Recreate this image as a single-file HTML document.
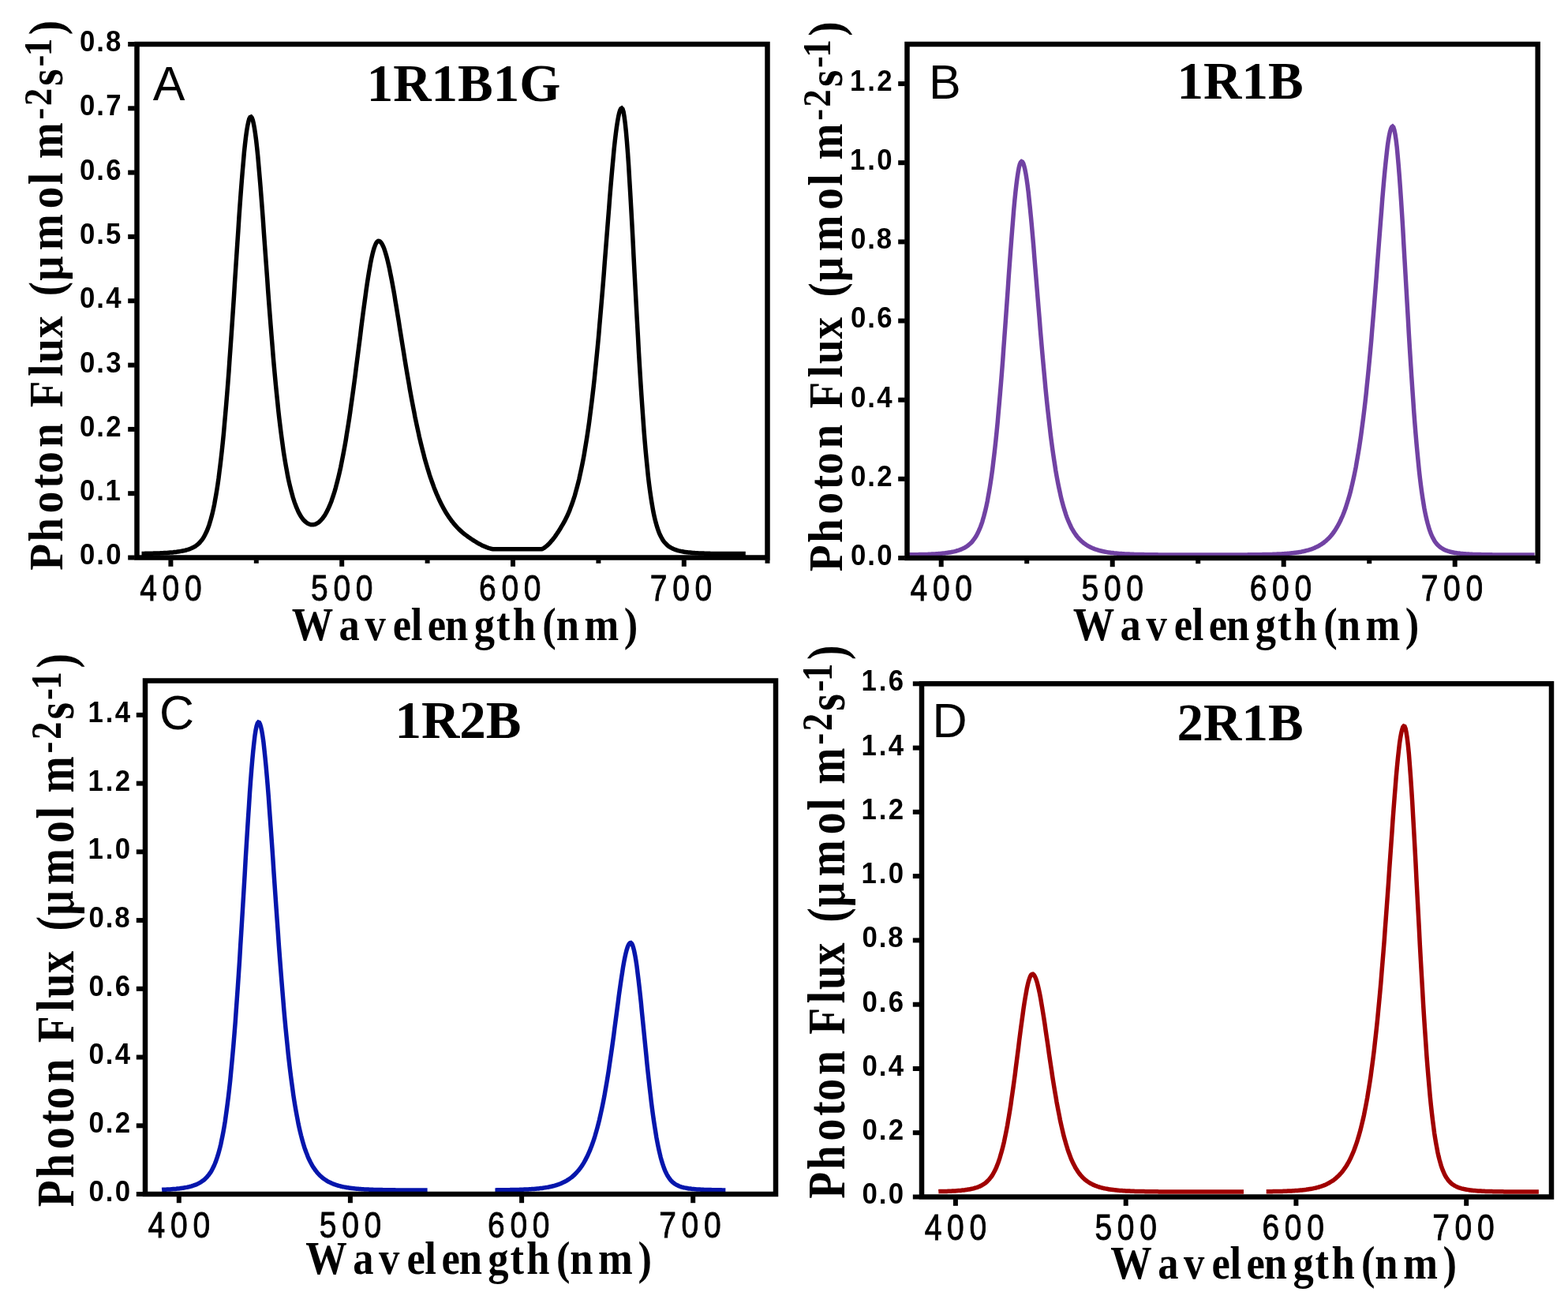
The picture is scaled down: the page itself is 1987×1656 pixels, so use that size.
<!DOCTYPE html>
<html><head><meta charset="utf-8"><style>html,body{margin:0;padding:0;background:#fff;}svg{display:block;}</style></head>
<body>
<svg width="1987" height="1656" viewBox="0 0 1987 1656">
<rect width="1987" height="1656" fill="#ffffff"/>
<path d="M179.5 701.4 L180.6 701.4 L181.7 701.4 L182.8 701.4 L183.9 701.3 L185.0 701.3 L186.0 701.3 L187.1 701.3 L188.2 701.3 L189.3 701.3 L190.4 701.2 L191.5 701.2 L192.5 701.2 L193.6 701.2 L194.7 701.1 L195.8 701.1 L196.9 701.1 L197.9 701.0 L199.0 701.0 L200.1 701.0 L201.2 700.9 L202.3 700.9 L203.4 700.8 L204.4 700.8 L205.5 700.7 L206.6 700.7 L207.7 700.6 L208.8 700.6 L209.9 700.5 L210.9 700.4 L212.0 700.4 L213.1 700.3 L214.2 700.2 L215.3 700.1 L216.3 700.1 L217.4 700.0 L218.5 699.9 L219.6 699.8 L220.7 699.6 L221.8 699.5 L222.8 699.4 L223.9 699.3 L225.0 699.1 L226.1 699.0 L227.2 698.8 L228.3 698.6 L229.3 698.4 L230.4 698.2 L231.5 698.0 L232.6 697.8 L233.7 697.6 L234.7 697.3 L235.8 697.0 L236.9 696.7 L238.0 696.4 L239.1 696.0 L240.2 695.7 L241.2 695.2 L242.3 694.8 L243.4 694.3 L244.5 693.8 L245.6 693.2 L246.7 692.6 L247.7 691.9 L248.8 691.1 L249.9 690.3 L251.0 689.4 L252.1 688.4 L253.2 687.3 L254.2 686.1 L255.3 684.8 L256.4 683.3 L257.5 681.7 L258.6 679.9 L259.6 678.0 L260.7 675.8 L261.8 673.5 L262.9 670.9 L264.0 668.0 L265.1 664.9 L266.1 661.5 L267.2 657.8 L268.3 653.7 L269.4 649.3 L270.5 644.5 L271.6 639.3 L272.6 633.6 L273.7 627.5 L274.8 620.9 L275.9 613.8 L277.0 606.2 L278.0 598.0 L279.1 589.3 L280.2 580.0 L281.3 570.2 L282.4 559.7 L283.5 548.7 L284.5 537.0 L285.6 524.8 L286.7 512.0 L287.8 498.6 L288.9 484.7 L290.0 470.2 L291.0 455.3 L292.1 440.0 L293.2 424.2 L294.3 408.1 L295.4 391.8 L296.5 375.2 L297.5 358.5 L298.6 341.7 L299.7 325.0 L300.8 308.3 L301.9 292.0 L302.9 275.9 L304.0 260.3 L305.1 245.3 L306.2 230.9 L307.3 217.4 L308.4 204.7 L309.4 193.1 L310.5 182.6 L311.6 173.3 L312.7 165.4 L313.8 158.9 L314.9 153.8 L315.9 150.3 L317.0 148.4 L318.1 148.0 L319.2 149.3 L320.3 152.0 L321.3 156.4 L322.4 162.1 L323.5 169.3 L324.6 177.7 L325.7 187.4 L326.8 198.1 L327.8 209.8 L328.9 222.4 L330.0 235.6 L331.1 249.5 L332.2 263.8 L333.3 278.5 L334.3 293.5 L335.4 308.6 L336.5 323.8 L337.6 338.9 L338.7 353.9 L339.7 368.8 L340.8 383.5 L341.9 397.8 L343.0 411.9 L344.1 425.6 L345.2 438.9 L346.2 451.8 L347.3 464.3 L348.4 476.3 L349.5 487.9 L350.6 499.0 L351.7 509.6 L352.7 519.8 L353.8 529.5 L354.9 538.7 L356.0 547.5 L357.1 555.8 L358.2 563.8 L359.2 571.3 L360.3 578.4 L361.4 585.1 L362.5 591.4 L363.6 597.3 L364.6 602.9 L365.7 608.2 L366.8 613.1 L367.9 617.7 L369.0 622.0 L370.1 626.0 L371.1 629.8 L372.2 633.3 L373.3 636.6 L374.4 639.6 L375.5 642.4 L376.6 645.0 L377.6 647.4 L378.7 649.6 L379.8 651.6 L380.9 653.5 L382.0 655.2 L383.0 656.7 L384.1 658.1 L385.2 659.3 L386.3 660.4 L387.4 661.4 L388.5 662.2 L389.5 663.0 L390.6 663.6 L391.7 664.0 L392.8 664.4 L393.9 664.7 L395.0 664.8 L396.0 664.8 L397.1 664.7 L398.2 664.6 L399.3 664.3 L400.4 663.8 L401.4 663.3 L402.5 662.7 L403.6 662.0 L404.7 661.1 L405.8 660.1 L406.9 659.0 L407.9 657.8 L409.0 656.5 L410.1 655.0 L411.2 653.4 L412.3 651.6 L413.4 649.7 L414.4 647.7 L415.5 645.5 L416.6 643.2 L417.7 640.7 L418.8 638.0 L419.9 635.2 L420.9 632.2 L422.0 629.0 L423.1 625.6 L424.2 622.1 L425.3 618.3 L426.3 614.4 L427.4 610.3 L428.5 605.9 L429.6 601.4 L430.7 596.6 L431.8 591.6 L432.8 586.4 L433.9 581.0 L435.0 575.4 L436.1 569.6 L437.2 563.5 L438.3 557.2 L439.3 550.7 L440.4 544.0 L441.5 537.1 L442.6 530.0 L443.7 522.7 L444.7 515.2 L445.8 507.5 L446.9 499.7 L448.0 491.6 L449.1 483.5 L450.2 475.2 L451.2 466.8 L452.3 458.4 L453.4 449.8 L454.5 441.2 L455.6 432.6 L456.7 424.0 L457.7 415.4 L458.8 406.9 L459.9 398.5 L461.0 390.2 L462.1 382.1 L463.2 374.2 L464.2 366.5 L465.3 359.1 L466.4 352.0 L467.5 345.3 L468.6 339.0 L469.6 333.1 L470.7 327.7 L471.8 322.8 L472.9 318.5 L474.0 314.7 L475.1 311.6 L476.1 309.1 L477.2 307.2 L478.3 306.0 L479.4 305.4 L480.5 305.5 L481.6 306.0 L482.6 307.1 L483.7 308.5 L484.8 310.5 L485.9 312.8 L487.0 315.6 L488.0 318.8 L489.1 322.4 L490.2 326.3 L491.3 330.6 L492.4 335.3 L493.5 340.2 L494.5 345.4 L495.6 350.9 L496.7 356.6 L497.8 362.5 L498.9 368.6 L500.0 374.9 L501.0 381.3 L502.1 387.8 L503.2 394.5 L504.3 401.2 L505.4 407.9 L506.4 414.7 L507.5 421.5 L508.6 428.3 L509.7 435.1 L510.8 441.9 L511.9 448.6 L512.9 455.2 L514.0 461.8 L515.1 468.4 L516.2 474.8 L517.3 481.1 L518.4 487.4 L519.4 493.5 L520.5 499.6 L521.6 505.5 L522.7 511.3 L523.8 517.0 L524.9 522.5 L525.9 528.0 L527.0 533.3 L528.1 538.5 L529.2 543.5 L530.3 548.5 L531.3 553.3 L532.4 557.9 L533.5 562.5 L534.6 566.9 L535.7 571.2 L536.8 575.4 L537.8 579.5 L538.9 583.4 L540.0 587.2 L541.1 591.0 L542.2 594.6 L543.3 598.1 L544.3 601.5 L545.4 604.8 L546.5 607.9 L547.6 611.0 L548.7 614.0 L549.7 616.9 L550.8 619.7 L551.9 622.4 L553.0 625.1 L554.1 627.6 L555.2 630.1 L556.2 632.5 L557.3 634.8 L558.4 637.0 L559.5 639.2 L560.6 641.3 L561.7 643.3 L562.7 645.2 L563.8 647.1 L564.9 649.0 L566.0 650.7 L567.1 652.4 L568.1 654.1 L569.2 655.7 L570.3 657.2 L571.4 658.7 L572.5 660.2 L573.6 661.5 L574.6 662.9 L575.7 664.2 L576.8 665.4 L577.9 666.7 L579.0 667.8 L580.1 669.0 L581.1 670.1 L582.2 671.1 L583.3 672.1 L584.4 673.1 L585.5 674.1 L586.6 675.0 L587.6 675.9 L588.7 676.8 L589.8 677.6 L590.9 678.4 L592.0 679.2 L593.0 680.0 L594.1 680.8 L595.2 681.5 L596.3 682.3 L597.4 683.0 L598.5 683.7 L599.5 684.4 L600.6 685.1 L601.7 685.8 L602.8 686.5 L603.9 687.1 L605.0 687.8 L606.0 688.4 L607.1 689.0 L608.2 689.6 L609.3 690.1 L610.4 690.7 L611.4 691.2 L612.5 691.7 L613.6 692.2 L614.7 692.6 L615.8 693.1 L616.9 693.5 L617.9 693.9 L619.0 694.3 L620.1 694.6 L621.2 695.0 L622.3 695.3 L623.4 695.5 L624.4 695.7 L625.5 695.7 L626.6 695.7 L627.7 695.7 L628.8 695.7 L629.9 695.7 L630.9 695.7 L632.0 695.7 L633.1 695.7 L634.2 695.7 L635.3 695.7 L636.3 695.7 L637.4 695.7 L638.5 695.7 L639.6 695.7 L640.7 695.7 L641.8 695.7 L642.8 695.7 L643.9 695.7 L645.0 695.7 L646.1 695.7 L647.2 695.7 L648.3 695.7 L649.3 695.7 L650.4 695.7 L651.5 695.7 L652.6 695.7 L653.7 695.7 L654.7 695.7 L655.8 695.7 L656.9 695.7 L658.0 695.7 L659.1 695.7 L660.2 695.7 L661.2 695.7 L662.3 695.7 L663.4 695.7 L664.5 695.7 L665.6 695.7 L666.7 695.7 L667.7 695.7 L668.8 695.7 L669.9 695.7 L671.0 695.7 L672.1 695.7 L673.1 695.7 L674.2 695.7 L675.3 695.7 L676.4 695.7 L677.5 695.7 L678.6 695.7 L679.6 695.7 L680.7 695.7 L681.8 695.7 L682.9 695.7 L684.0 695.7 L685.1 695.7 L686.1 695.7 L687.2 695.5 L688.3 694.9 L689.4 694.3 L690.5 693.5 L691.6 692.7 L692.6 691.8 L693.7 690.9 L694.8 689.9 L695.9 688.8 L697.0 687.6 L698.0 686.4 L699.1 685.2 L700.2 683.9 L701.3 682.5 L702.4 681.1 L703.5 679.6 L704.5 678.1 L705.6 676.5 L706.7 674.9 L707.8 673.2 L708.9 671.5 L710.0 669.8 L711.0 668.0 L712.1 666.2 L713.2 664.3 L714.3 662.4 L715.4 660.4 L716.4 658.4 L717.5 656.2 L718.6 654.0 L719.7 651.6 L720.8 649.1 L721.9 646.5 L722.9 643.7 L724.0 640.8 L725.1 637.8 L726.2 634.6 L727.3 631.2 L728.4 627.7 L729.4 624.0 L730.5 620.1 L731.6 616.1 L732.7 611.8 L733.8 607.3 L734.8 602.6 L735.9 597.7 L737.0 592.5 L738.1 587.1 L739.2 581.5 L740.3 575.5 L741.3 569.3 L742.4 562.8 L743.5 556.0 L744.6 548.9 L745.7 541.5 L746.8 533.7 L747.8 525.6 L748.9 517.2 L750.0 508.4 L751.1 499.2 L752.2 489.7 L753.3 479.8 L754.3 469.5 L755.4 458.9 L756.5 447.8 L757.6 436.4 L758.7 424.7 L759.7 412.5 L760.8 400.1 L761.9 387.3 L763.0 374.2 L764.1 360.9 L765.2 347.4 L766.2 333.6 L767.3 319.8 L768.4 305.8 L769.5 291.8 L770.6 277.9 L771.7 264.1 L772.7 250.6 L773.8 237.3 L774.9 224.4 L776.0 212.1 L777.1 200.3 L778.1 189.3 L779.2 179.0 L780.3 169.7 L781.4 161.4 L782.5 154.2 L783.6 148.1 L784.6 143.4 L785.7 139.9 L786.8 137.7 L787.9 137.0 L789.0 138.1 L790.1 141.7 L791.1 147.7 L792.2 156.0 L793.3 166.4 L794.4 178.9 L795.5 193.2 L796.6 209.1 L797.6 226.3 L798.7 244.7 L799.8 264.0 L800.9 284.0 L802.0 304.5 L803.0 325.2 L804.1 346.1 L805.2 366.9 L806.3 387.5 L807.4 407.7 L808.5 427.4 L809.5 446.6 L810.6 465.1 L811.7 482.8 L812.8 499.8 L813.9 515.8 L815.0 531.1 L816.0 545.4 L817.1 558.9 L818.2 571.4 L819.3 583.1 L820.4 593.9 L821.4 603.9 L822.5 613.1 L823.6 621.5 L824.7 629.2 L825.8 636.2 L826.9 642.6 L827.9 648.4 L829.0 653.6 L830.1 658.3 L831.2 662.6 L832.3 666.4 L833.4 669.8 L834.4 672.9 L835.5 675.6 L836.6 678.1 L837.7 680.3 L838.8 682.2 L839.8 684.0 L840.9 685.6 L842.0 687.0 L843.1 688.2 L844.2 689.4 L845.3 690.4 L846.3 691.3 L847.4 692.2 L848.5 692.9 L849.6 693.6 L850.7 694.2 L851.8 694.8 L852.8 695.3 L853.9 695.8 L855.0 696.2 L856.1 696.6 L857.2 697.0 L858.3 697.3 L859.3 697.6 L860.4 697.9 L861.5 698.1 L862.6 698.4 L863.7 698.6 L864.7 698.8 L865.8 699.0 L866.9 699.2 L868.0 699.4 L869.1 699.5 L870.2 699.7 L871.2 699.8 L872.3 699.9 L873.4 700.0 L874.5 700.1 L875.6 700.3 L876.7 700.3 L877.7 700.4 L878.8 700.5 L879.9 700.6 L881.0 700.7 L882.1 700.7 L883.1 700.8 L884.2 700.8 L885.3 700.9 L886.4 700.9 L887.5 701.0 L888.6 701.0 L889.6 701.1 L890.7 701.1 L891.8 701.1 L892.9 701.2 L894.0 701.2 L895.1 701.2 L896.1 701.3 L897.2 701.3 L898.3 701.3 L899.4 701.3 L900.5 701.4 L901.5 701.4 L902.6 701.4 L903.7 701.4 L904.8 701.4 L905.9 701.4 L907.0 701.4 L908.0 701.5 L909.1 701.5 L910.2 701.5 L911.3 701.5 L912.4 701.5 L913.5 701.5 L914.5 701.5 L915.6 701.5 L916.7 701.5 L917.8 701.5 L918.9 701.5 L920.0 701.5 L921.0 701.6 L922.1 701.6 L923.2 701.6 L924.3 701.6 L925.4 701.6 L926.4 701.6 L927.5 701.6 L928.6 701.6 L929.7 701.6 L930.8 701.6 L931.9 701.6 L932.9 701.6 L934.0 701.6 L935.1 701.6 L936.2 701.6 L937.3 701.6 L938.4 701.6 L939.4 701.6 L940.5 701.6 L941.6 701.6 L942.7 701.6 L943.8 701.6 L944.8 701.6" fill="none" stroke="#000000" stroke-width="5.5" stroke-linejoin="miter" stroke-linecap="butt"/>
<rect x="173.5" y="56.0" width="799.0" height="650.5" fill="none" stroke="#000" stroke-width="6.5"/>
<line x1="162.2" y1="706.5" x2="170.8" y2="706.5" stroke="#000" stroke-width="6.0"/>
<text transform="scale(0.94 1)" x="107.39 129.95 142.93" y="715.5" font-family="'Liberation Sans', Arial, sans-serif" font-size="37" font-weight="bold" >0.0</text>
<line x1="162.2" y1="625.2" x2="170.8" y2="625.2" stroke="#000" stroke-width="6.0"/>
<text transform="scale(0.94 1)" x="107.39 129.95 141.93" y="634.2" font-family="'Liberation Sans', Arial, sans-serif" font-size="37" font-weight="bold" >0.1</text>
<line x1="162.2" y1="543.9" x2="170.8" y2="543.9" stroke="#000" stroke-width="6.0"/>
<text transform="scale(0.94 1)" x="107.39 129.95 142.93" y="552.9" font-family="'Liberation Sans', Arial, sans-serif" font-size="37" font-weight="bold" >0.2</text>
<line x1="162.2" y1="462.6" x2="170.8" y2="462.6" stroke="#000" stroke-width="6.0"/>
<text transform="scale(0.94 1)" x="107.39 129.95 142.93" y="471.6" font-family="'Liberation Sans', Arial, sans-serif" font-size="37" font-weight="bold" >0.3</text>
<line x1="162.2" y1="381.2" x2="170.8" y2="381.2" stroke="#000" stroke-width="6.0"/>
<text transform="scale(0.94 1)" x="107.39 129.95 142.93" y="390.2" font-family="'Liberation Sans', Arial, sans-serif" font-size="37" font-weight="bold" >0.4</text>
<line x1="162.2" y1="299.9" x2="170.8" y2="299.9" stroke="#000" stroke-width="6.0"/>
<text transform="scale(0.94 1)" x="107.39 129.95 142.43" y="308.9" font-family="'Liberation Sans', Arial, sans-serif" font-size="37" font-weight="bold" >0.5</text>
<line x1="162.2" y1="218.6" x2="170.8" y2="218.6" stroke="#000" stroke-width="6.0"/>
<text transform="scale(0.94 1)" x="107.39 129.95 142.93" y="227.6" font-family="'Liberation Sans', Arial, sans-serif" font-size="37" font-weight="bold" >0.6</text>
<line x1="162.2" y1="137.3" x2="170.8" y2="137.3" stroke="#000" stroke-width="6.0"/>
<text transform="scale(0.94 1)" x="107.39 129.95 142.93" y="146.3" font-family="'Liberation Sans', Arial, sans-serif" font-size="37" font-weight="bold" >0.7</text>
<line x1="162.2" y1="56.0" x2="170.8" y2="56.0" stroke="#000" stroke-width="6.0"/>
<text transform="scale(0.94 1)" x="107.39 129.95 142.43" y="65.0" font-family="'Liberation Sans', Arial, sans-serif" font-size="37" font-weight="bold" >0.8</text>
<line x1="216.4" y1="709.2" x2="216.4" y2="717.8" stroke="#000" stroke-width="6.0"/>
<text transform="scale(0.83 1)" x="213.51 247.72 281.94" y="760.7" font-family="'Liberation Sans', Arial, sans-serif" font-size="47" font-weight="normal" stroke="#000" stroke-width="0.9">400</text>
<line x1="324.8" y1="709.2" x2="324.8" y2="713.8" stroke="#000" stroke-width="6.0"/>
<line x1="433.2" y1="709.2" x2="433.2" y2="717.8" stroke="#000" stroke-width="6.0"/>
<text transform="scale(0.83 1)" x="474.71 508.93 543.14" y="760.7" font-family="'Liberation Sans', Arial, sans-serif" font-size="47" font-weight="normal" stroke="#000" stroke-width="0.9">500</text>
<line x1="541.6" y1="709.2" x2="541.6" y2="713.8" stroke="#000" stroke-width="6.0"/>
<line x1="650.0" y1="709.2" x2="650.0" y2="717.8" stroke="#000" stroke-width="6.0"/>
<text transform="scale(0.83 1)" x="731.34 765.55 799.77" y="760.7" font-family="'Liberation Sans', Arial, sans-serif" font-size="47" font-weight="normal" stroke="#000" stroke-width="0.9">600</text>
<line x1="758.4" y1="709.2" x2="758.4" y2="713.8" stroke="#000" stroke-width="6.0"/>
<line x1="866.8" y1="709.2" x2="866.8" y2="717.8" stroke="#000" stroke-width="6.0"/>
<text transform="scale(0.83 1)" x="992.54 1026.76 1060.98" y="760.7" font-family="'Liberation Sans', Arial, sans-serif" font-size="47" font-weight="normal" stroke="#000" stroke-width="0.9">700</text>
<line x1="972.5" y1="709.2" x2="972.5" y2="713.8" stroke="#000" stroke-width="6.0"/>
<text transform="scale(0.89 1)" x="415.33 482.65 519.55 559.37 585.03 608.80 633.78 674.94 706.63 730.02 772.25 791.76 831.96 888.53" y="810.9" font-family="'Liberation Serif', 'Times New Roman', serif" font-size="59" font-weight="bold">Wavelength(nm)</text>
<text x="193.7" y="126.6" font-family="'Liberation Sans', Arial, sans-serif" font-size="61" font-weight="normal" text-anchor="start" >A</text>
<text x="464.7" y="127.5" font-family="'Liberation Serif', 'Times New Roman', serif" font-size="67" font-weight="bold" text-anchor="start" >1R1B1G</text>
<g transform="translate(79.3,723.6) rotate(-90) scale(1.0 1.0)">
<text transform="scale(0.89 1)" y="0" font-family="'Liberation Serif', 'Times New Roman', serif" font-size="62" font-weight="bold"><tspan x="0.83 41.49 82.53 117.76 139.28 175.88 180.88 233.12 277.23 296.54 332.03 337.03 391.53 413.46 456.65 516.13 550.04 555.04 586.98">Photon Flux (μmol m</tspan><tspan x="642.85 662.39" y="-14.8" font-size="50">-2</tspan><tspan x="690.93" y="0">s</tspan><tspan x="718.07 733.24" y="-14.8" font-size="50">-1</tspan><tspan x="763.31" y="0">)</tspan></text>
</g>
<path d="M1151.5 702.8 L1152.6 702.8 L1153.6 702.8 L1154.7 702.8 L1155.8 702.8 L1156.9 702.8 L1158.0 702.8 L1159.1 702.7 L1160.1 702.7 L1161.2 702.7 L1162.3 702.7 L1163.4 702.7 L1164.5 702.6 L1165.6 702.6 L1166.6 702.6 L1167.7 702.6 L1168.8 702.6 L1169.9 702.5 L1171.0 702.5 L1172.1 702.5 L1173.1 702.4 L1174.2 702.4 L1175.3 702.4 L1176.4 702.3 L1177.5 702.3 L1178.6 702.2 L1179.6 702.2 L1180.7 702.1 L1181.8 702.1 L1182.9 702.0 L1184.0 702.0 L1185.1 701.9 L1186.1 701.8 L1187.2 701.8 L1188.3 701.7 L1189.4 701.6 L1190.5 701.5 L1191.6 701.4 L1192.6 701.3 L1193.7 701.2 L1194.8 701.1 L1195.9 701.0 L1197.0 700.9 L1198.1 700.7 L1199.1 700.6 L1200.2 700.5 L1201.3 700.3 L1202.4 700.1 L1203.5 700.0 L1204.6 699.8 L1205.6 699.6 L1206.7 699.3 L1207.8 699.1 L1208.9 698.9 L1210.0 698.6 L1211.1 698.3 L1212.1 698.0 L1213.2 697.7 L1214.3 697.4 L1215.4 697.0 L1216.5 696.6 L1217.6 696.2 L1218.6 695.7 L1219.7 695.3 L1220.8 694.7 L1221.9 694.2 L1223.0 693.6 L1224.1 692.9 L1225.2 692.2 L1226.2 691.5 L1227.3 690.6 L1228.4 689.7 L1229.5 688.8 L1230.6 687.7 L1231.7 686.6 L1232.7 685.3 L1233.8 683.9 L1234.9 682.5 L1236.0 680.8 L1237.1 679.1 L1238.2 677.1 L1239.2 675.0 L1240.3 672.7 L1241.4 670.2 L1242.5 667.5 L1243.6 664.5 L1244.7 661.3 L1245.7 657.8 L1246.8 654.0 L1247.9 649.8 L1249.0 645.3 L1250.1 640.5 L1251.2 635.2 L1252.2 629.6 L1253.3 623.5 L1254.4 616.9 L1255.5 609.9 L1256.6 602.4 L1257.7 594.4 L1258.7 585.9 L1259.8 576.8 L1260.9 567.2 L1262.0 557.1 L1263.1 546.4 L1264.2 535.1 L1265.2 523.3 L1266.3 511.0 L1267.4 498.2 L1268.5 484.9 L1269.6 471.2 L1270.7 457.0 L1271.7 442.5 L1272.8 427.6 L1273.9 412.5 L1275.0 397.2 L1276.1 381.8 L1277.2 366.3 L1278.2 350.9 L1279.3 335.7 L1280.4 320.7 L1281.5 306.2 L1282.6 292.1 L1283.7 278.6 L1284.7 265.9 L1285.8 254.1 L1286.9 243.3 L1288.0 233.6 L1289.1 225.1 L1290.2 218.0 L1291.2 212.4 L1292.3 208.2 L1293.4 205.6 L1294.5 204.6 L1295.6 205.1 L1296.7 206.9 L1297.7 210.1 L1298.8 214.4 L1299.9 220.1 L1301.0 226.8 L1302.1 234.6 L1303.2 243.4 L1304.2 253.1 L1305.3 263.6 L1306.4 274.8 L1307.5 286.6 L1308.6 298.9 L1309.7 311.6 L1310.7 324.6 L1311.8 337.9 L1312.9 351.3 L1314.0 364.7 L1315.1 378.2 L1316.2 391.6 L1317.3 404.8 L1318.3 418.0 L1319.4 430.8 L1320.5 443.5 L1321.6 455.8 L1322.7 467.8 L1323.8 479.5 L1324.8 490.8 L1325.9 501.8 L1327.0 512.4 L1328.1 522.5 L1329.2 532.3 L1330.3 541.7 L1331.3 550.6 L1332.4 559.2 L1333.5 567.3 L1334.6 575.1 L1335.7 582.5 L1336.8 589.5 L1337.8 596.2 L1338.9 602.5 L1340.0 608.5 L1341.1 614.1 L1342.2 619.4 L1343.3 624.4 L1344.3 629.2 L1345.4 633.6 L1346.5 637.8 L1347.6 641.7 L1348.7 645.4 L1349.8 648.9 L1350.8 652.1 L1351.9 655.2 L1353.0 658.0 L1354.1 660.7 L1355.2 663.2 L1356.3 665.5 L1357.3 667.7 L1358.4 669.8 L1359.5 671.7 L1360.6 673.6 L1361.7 675.3 L1362.8 676.8 L1363.8 678.3 L1364.9 679.7 L1366.0 681.0 L1367.1 682.3 L1368.2 683.4 L1369.3 684.5 L1370.3 685.5 L1371.4 686.5 L1372.5 687.4 L1373.6 688.3 L1374.7 689.1 L1375.8 689.8 L1376.8 690.5 L1377.9 691.2 L1379.0 691.8 L1380.1 692.4 L1381.2 693.0 L1382.3 693.5 L1383.3 694.0 L1384.4 694.5 L1385.5 694.9 L1386.6 695.4 L1387.7 695.8 L1388.8 696.1 L1389.8 696.5 L1390.9 696.8 L1392.0 697.2 L1393.1 697.5 L1394.2 697.8 L1395.3 698.0 L1396.3 698.3 L1397.4 698.5 L1398.5 698.8 L1399.6 699.0 L1400.7 699.2 L1401.8 699.4 L1402.8 699.6 L1403.9 699.8 L1405.0 699.9 L1406.1 700.1 L1407.2 700.2 L1408.3 700.4 L1409.4 700.5 L1410.4 700.6 L1411.5 700.8 L1412.6 700.9 L1413.7 701.0 L1414.8 701.1 L1415.9 701.2 L1416.9 701.3 L1418.0 701.4 L1419.1 701.5 L1420.2 701.5 L1421.3 701.6 L1422.4 701.7 L1423.4 701.8 L1424.5 701.8 L1425.6 701.9 L1426.7 701.9 L1427.8 702.0 L1428.9 702.0 L1429.9 702.1 L1431.0 702.1 L1432.1 702.2 L1433.2 702.2 L1434.3 702.3 L1435.4 702.3 L1436.4 702.3 L1437.5 702.4 L1438.6 702.4 L1439.7 702.4 L1440.8 702.5 L1441.9 702.5 L1442.9 702.5 L1444.0 702.5 L1445.1 702.6 L1446.2 702.6 L1447.3 702.6 L1448.4 702.6 L1449.4 702.6 L1450.5 702.7 L1451.6 702.7 L1452.7 702.7 L1453.8 702.7 L1454.9 702.7 L1455.9 702.7 L1457.0 702.8 L1458.1 702.8 L1459.2 702.8 L1460.3 702.8 L1461.4 702.8 L1462.4 702.8 L1463.5 702.8 L1464.6 702.8 L1465.7 702.8 L1466.8 702.8 L1467.9 702.9 L1468.9 702.9 L1470.0 702.9 L1471.1 702.9 L1472.2 702.9 L1473.3 702.9 L1474.4 702.9 L1475.4 702.9 L1476.5 702.9 L1477.6 702.9 L1478.7 702.9 L1479.8 702.9 L1480.9 702.9 L1481.9 702.9 L1483.0 702.9 L1484.1 702.9 L1485.2 702.9 L1486.3 702.9 L1487.4 702.9 L1488.4 702.9 L1489.5 702.9 L1490.6 702.9 L1491.7 702.9 L1492.8 703.0 L1493.9 703.0 L1494.9 703.0 L1496.0 703.0 L1497.1 703.0 L1498.2 703.0 L1499.3 703.0 L1500.4 703.0 L1501.5 703.0 L1502.5 703.0 L1503.6 703.0 L1504.7 703.0 L1505.8 703.0 L1506.9 703.0 L1508.0 703.0 L1509.0 703.0 L1510.1 703.0 L1511.2 703.0 L1512.3 703.0 L1513.4 703.0 L1514.5 703.0 L1515.5 703.0 L1516.6 703.0 L1517.7 703.0 L1518.8 703.0 L1519.9 703.0 L1521.0 703.0 L1522.0 703.0 L1523.1 703.0 L1524.2 703.0 L1525.3 703.0 L1526.4 703.0 L1527.5 703.0 L1528.5 703.0 L1529.6 703.0 L1530.7 703.0 L1531.8 703.0 L1532.9 703.0 L1534.0 703.0 L1535.0 703.0 L1536.1 703.0 L1537.2 703.0 L1538.3 703.0 L1539.4 703.0 L1540.5 703.0 L1541.5 703.0 L1542.6 703.0 L1543.7 703.0 L1544.8 703.0 L1545.9 703.0 L1547.0 703.0 L1548.0 703.0 L1549.1 703.0 L1550.2 703.0 L1551.3 703.0 L1552.4 703.0 L1553.5 703.0 L1554.5 703.0 L1555.6 703.0 L1556.7 702.9 L1557.8 702.9 L1558.9 702.9 L1560.0 702.9 L1561.0 702.9 L1562.1 702.9 L1563.2 702.9 L1564.3 702.9 L1565.4 702.9 L1566.5 702.9 L1567.5 702.9 L1568.6 702.9 L1569.7 702.9 L1570.8 702.9 L1571.9 702.9 L1573.0 702.9 L1574.0 702.9 L1575.1 702.9 L1576.2 702.9 L1577.3 702.9 L1578.4 702.9 L1579.5 702.9 L1580.5 702.9 L1581.6 702.8 L1582.7 702.8 L1583.8 702.8 L1584.9 702.8 L1586.0 702.8 L1587.0 702.8 L1588.1 702.8 L1589.2 702.8 L1590.3 702.8 L1591.4 702.8 L1592.5 702.7 L1593.6 702.7 L1594.6 702.7 L1595.7 702.7 L1596.8 702.7 L1597.9 702.7 L1599.0 702.7 L1600.1 702.6 L1601.1 702.6 L1602.2 702.6 L1603.3 702.6 L1604.4 702.6 L1605.5 702.5 L1606.6 702.5 L1607.6 702.5 L1608.7 702.4 L1609.8 702.4 L1610.9 702.4 L1612.0 702.4 L1613.1 702.3 L1614.1 702.3 L1615.2 702.2 L1616.3 702.2 L1617.4 702.2 L1618.5 702.1 L1619.6 702.1 L1620.6 702.0 L1621.7 702.0 L1622.8 701.9 L1623.9 701.9 L1625.0 701.8 L1626.1 701.7 L1627.1 701.7 L1628.2 701.6 L1629.3 701.5 L1630.4 701.4 L1631.5 701.3 L1632.6 701.3 L1633.6 701.2 L1634.7 701.1 L1635.8 701.0 L1636.9 700.8 L1638.0 700.7 L1639.1 700.6 L1640.1 700.5 L1641.2 700.3 L1642.3 700.2 L1643.4 700.0 L1644.5 699.9 L1645.6 699.7 L1646.6 699.5 L1647.7 699.4 L1648.8 699.2 L1649.9 698.9 L1651.0 698.7 L1652.1 698.5 L1653.1 698.3 L1654.2 698.0 L1655.3 697.7 L1656.4 697.4 L1657.5 697.1 L1658.6 696.8 L1659.6 696.5 L1660.7 696.1 L1661.8 695.8 L1662.9 695.4 L1664.0 695.0 L1665.1 694.5 L1666.1 694.1 L1667.2 693.6 L1668.3 693.1 L1669.4 692.5 L1670.5 692.0 L1671.6 691.4 L1672.6 690.7 L1673.7 690.1 L1674.8 689.4 L1675.9 688.6 L1677.0 687.9 L1678.1 687.0 L1679.1 686.2 L1680.2 685.3 L1681.3 684.3 L1682.4 683.3 L1683.5 682.2 L1684.6 681.1 L1685.7 679.9 L1686.7 678.7 L1687.8 677.4 L1688.9 676.0 L1690.0 674.5 L1691.1 673.0 L1692.2 671.3 L1693.2 669.6 L1694.3 667.8 L1695.4 665.9 L1696.5 663.9 L1697.6 661.8 L1698.7 659.6 L1699.7 657.2 L1700.8 654.8 L1701.9 652.2 L1703.0 649.4 L1704.1 646.5 L1705.2 643.5 L1706.2 640.3 L1707.3 636.9 L1708.4 633.3 L1709.5 629.6 L1710.6 625.7 L1711.7 621.5 L1712.7 617.1 L1713.8 612.6 L1714.9 607.7 L1716.0 602.6 L1717.1 597.3 L1718.2 591.7 L1719.2 585.8 L1720.3 579.6 L1721.4 573.1 L1722.5 566.3 L1723.6 559.1 L1724.7 551.6 L1725.7 543.8 L1726.8 535.6 L1727.9 527.0 L1729.0 518.0 L1730.1 508.6 L1731.2 498.8 L1732.2 488.6 L1733.3 478.0 L1734.4 467.0 L1735.5 455.6 L1736.6 443.7 L1737.7 431.5 L1738.7 418.9 L1739.8 406.0 L1740.9 392.7 L1742.0 379.1 L1743.1 365.3 L1744.2 351.2 L1745.2 337.0 L1746.3 322.7 L1747.4 308.4 L1748.5 294.2 L1749.6 280.1 L1750.7 266.2 L1751.7 252.7 L1752.8 239.7 L1753.9 227.3 L1755.0 215.6 L1756.1 204.7 L1757.2 194.8 L1758.2 185.9 L1759.3 178.2 L1760.4 171.8 L1761.5 166.7 L1762.6 163.0 L1763.7 160.9 L1764.7 160.2 L1765.8 161.3 L1766.9 164.6 L1768.0 170.0 L1769.1 177.3 L1770.2 186.5 L1771.2 197.4 L1772.3 209.9 L1773.4 223.9 L1774.5 239.1 L1775.6 255.4 L1776.7 272.6 L1777.8 290.5 L1778.8 309.0 L1779.9 327.8 L1781.0 346.8 L1782.1 365.9 L1783.2 385.0 L1784.3 403.8 L1785.3 422.4 L1786.4 440.5 L1787.5 458.1 L1788.6 475.1 L1789.7 491.5 L1790.8 507.3 L1791.8 522.3 L1792.9 536.5 L1794.0 550.0 L1795.1 562.7 L1796.2 574.6 L1797.3 585.7 L1798.3 596.1 L1799.4 605.7 L1800.5 614.6 L1801.6 622.8 L1802.7 630.3 L1803.8 637.2 L1804.8 643.5 L1805.9 649.2 L1807.0 654.4 L1808.1 659.1 L1809.2 663.4 L1810.3 667.3 L1811.3 670.7 L1812.4 673.8 L1813.5 676.6 L1814.6 679.2 L1815.7 681.4 L1816.8 683.4 L1817.8 685.2 L1818.9 686.8 L1820.0 688.3 L1821.1 689.6 L1822.2 690.8 L1823.3 691.8 L1824.3 692.7 L1825.4 693.6 L1826.5 694.3 L1827.6 695.0 L1828.7 695.6 L1829.8 696.2 L1830.8 696.7 L1831.9 697.2 L1833.0 697.6 L1834.1 698.0 L1835.2 698.4 L1836.3 698.7 L1837.3 699.0 L1838.4 699.3 L1839.5 699.5 L1840.6 699.8 L1841.7 700.0 L1842.8 700.2 L1843.8 700.4 L1844.9 700.5 L1846.0 700.7 L1847.1 700.9 L1848.2 701.0 L1849.3 701.1 L1850.3 701.2 L1851.4 701.4 L1852.5 701.5 L1853.6 701.6 L1854.7 701.7 L1855.8 701.7 L1856.8 701.8 L1857.9 701.9 L1859.0 702.0 L1860.1 702.0 L1861.2 702.1 L1862.3 702.2 L1863.3 702.2 L1864.4 702.3 L1865.5 702.3 L1866.6 702.4 L1867.7 702.4 L1868.8 702.4 L1869.9 702.5 L1870.9 702.5 L1872.0 702.5 L1873.1 702.6 L1874.2 702.6 L1875.3 702.6 L1876.4 702.6 L1877.4 702.7 L1878.5 702.7 L1879.6 702.7 L1880.7 702.7 L1881.8 702.7 L1882.9 702.8 L1883.9 702.8 L1885.0 702.8 L1886.1 702.8 L1887.2 702.8 L1888.3 702.8 L1889.4 702.8 L1890.4 702.8 L1891.5 702.9 L1892.6 702.9 L1893.7 702.9 L1894.8 702.9 L1895.9 702.9 L1896.9 702.9 L1898.0 702.9 L1899.1 702.9 L1900.2 702.9 L1901.3 702.9 L1902.4 702.9 L1903.4 702.9 L1904.5 702.9 L1905.6 702.9 L1906.7 702.9 L1907.8 702.9 L1908.9 702.9 L1909.9 703.0 L1911.0 703.0 L1912.1 703.0 L1913.2 703.0 L1914.3 703.0 L1915.4 703.0 L1916.4 703.0 L1917.5 703.0 L1918.6 703.0 L1919.7 703.0 L1920.8 703.0 L1921.9 703.0 L1922.9 703.0 L1924.0 703.0 L1925.1 703.0 L1926.2 703.0 L1927.3 703.0 L1928.4 703.0 L1929.4 703.0 L1930.5 703.0 L1931.6 703.0 L1932.7 703.0 L1933.8 703.0 L1934.9 703.0 L1935.9 703.0 L1937.0 703.0 L1938.1 703.0 L1939.2 703.0 L1940.3 703.0 L1941.4 703.0 L1942.4 703.0 L1943.5 703.0 L1944.6 703.0" fill="none" stroke="#7142a3" stroke-width="5.5" stroke-linejoin="miter" stroke-linecap="butt"/>
<rect x="1149.5" y="56.0" width="799.2" height="651.0" fill="none" stroke="#000" stroke-width="6.5"/>
<line x1="1138.2" y1="707.0" x2="1146.8" y2="707.0" stroke="#000" stroke-width="6.0"/>
<text transform="scale(0.94 1)" x="1146.76 1169.31 1182.29" y="716.0" font-family="'Liberation Sans', Arial, sans-serif" font-size="37" font-weight="bold" >0.0</text>
<line x1="1138.2" y1="606.8" x2="1146.8" y2="606.8" stroke="#000" stroke-width="6.0"/>
<text transform="scale(0.94 1)" x="1146.76 1169.31 1182.29" y="615.8" font-family="'Liberation Sans', Arial, sans-serif" font-size="37" font-weight="bold" >0.2</text>
<line x1="1138.2" y1="506.7" x2="1146.8" y2="506.7" stroke="#000" stroke-width="6.0"/>
<text transform="scale(0.94 1)" x="1146.76 1169.31 1182.29" y="515.7" font-family="'Liberation Sans', Arial, sans-serif" font-size="37" font-weight="bold" >0.4</text>
<line x1="1138.2" y1="406.5" x2="1146.8" y2="406.5" stroke="#000" stroke-width="6.0"/>
<text transform="scale(0.94 1)" x="1146.76 1169.31 1182.29" y="415.5" font-family="'Liberation Sans', Arial, sans-serif" font-size="37" font-weight="bold" >0.6</text>
<line x1="1138.2" y1="306.4" x2="1146.8" y2="306.4" stroke="#000" stroke-width="6.0"/>
<text transform="scale(0.94 1)" x="1146.76 1169.31 1181.79" y="315.4" font-family="'Liberation Sans', Arial, sans-serif" font-size="37" font-weight="bold" >0.8</text>
<line x1="1138.2" y1="206.2" x2="1146.8" y2="206.2" stroke="#000" stroke-width="6.0"/>
<text transform="scale(0.94 1)" x="1145.76 1169.31 1182.29" y="215.2" font-family="'Liberation Sans', Arial, sans-serif" font-size="37" font-weight="bold" >1.0</text>
<line x1="1138.2" y1="106.1" x2="1146.8" y2="106.1" stroke="#000" stroke-width="6.0"/>
<text transform="scale(0.94 1)" x="1145.76 1169.31 1182.29" y="115.1" font-family="'Liberation Sans', Arial, sans-serif" font-size="37" font-weight="bold" >1.2</text>
<line x1="1192.7" y1="709.8" x2="1192.7" y2="718.2" stroke="#000" stroke-width="6.0"/>
<text transform="scale(0.83 1)" x="1389.77 1423.99 1458.20" y="761.0" font-family="'Liberation Sans', Arial, sans-serif" font-size="47" font-weight="normal" stroke="#000" stroke-width="0.9">400</text>
<line x1="1301.2" y1="709.8" x2="1301.2" y2="714.2" stroke="#000" stroke-width="6.0"/>
<line x1="1409.7" y1="709.8" x2="1409.7" y2="718.2" stroke="#000" stroke-width="6.0"/>
<text transform="scale(0.83 1)" x="1651.22 1685.43 1719.65" y="761.0" font-family="'Liberation Sans', Arial, sans-serif" font-size="47" font-weight="normal" stroke="#000" stroke-width="0.9">500</text>
<line x1="1518.2" y1="709.8" x2="1518.2" y2="714.2" stroke="#000" stroke-width="6.0"/>
<line x1="1626.7" y1="709.8" x2="1626.7" y2="718.2" stroke="#000" stroke-width="6.0"/>
<text transform="scale(0.83 1)" x="1908.08 1942.30 1976.52" y="761.0" font-family="'Liberation Sans', Arial, sans-serif" font-size="47" font-weight="normal" stroke="#000" stroke-width="0.9">600</text>
<line x1="1735.2" y1="709.8" x2="1735.2" y2="714.2" stroke="#000" stroke-width="6.0"/>
<line x1="1843.7" y1="709.8" x2="1843.7" y2="718.2" stroke="#000" stroke-width="6.0"/>
<text transform="scale(0.83 1)" x="2169.53 2203.75 2237.96" y="761.0" font-family="'Liberation Sans', Arial, sans-serif" font-size="47" font-weight="normal" stroke="#000" stroke-width="0.9">700</text>
<line x1="1948.7" y1="709.8" x2="1948.7" y2="714.2" stroke="#000" stroke-width="6.0"/>
<text transform="scale(0.89 1)" x="1527.69 1595.01 1631.91 1671.72 1697.39 1721.16 1746.14 1787.30 1818.99 1842.38 1884.61 1904.12 1944.32 2000.89" y="810.7" font-family="'Liberation Serif', 'Times New Roman', serif" font-size="59" font-weight="bold">Wavelength(nm)</text>
<text x="1177.0" y="124.8" font-family="'Liberation Sans', Arial, sans-serif" font-size="61" font-weight="normal" text-anchor="start" >B</text>
<text x="1491.6" y="124.7" font-family="'Liberation Serif', 'Times New Roman', serif" font-size="67" font-weight="bold" text-anchor="start" >1R1B</text>
<g transform="translate(1066.5,725.0) rotate(-90) scale(1.0 1.0)">
<text transform="scale(0.89 1)" y="0" font-family="'Liberation Serif', 'Times New Roman', serif" font-size="62" font-weight="bold"><tspan x="0.83 41.49 82.53 117.76 139.28 175.88 180.88 233.12 277.23 296.54 332.03 337.03 391.53 413.46 456.65 516.13 550.04 555.04 586.98">Photon Flux (μmol m</tspan><tspan x="642.85 662.39" y="-14.8" font-size="50">-2</tspan><tspan x="690.93" y="0">s</tspan><tspan x="718.07 733.24" y="-14.8" font-size="50">-1</tspan><tspan x="763.31" y="0">)</tspan></text>
</g>
<path d="M205.1 1507.4 L206.2 1507.3 L207.3 1507.3 L208.3 1507.3 L209.4 1507.2 L210.5 1507.2 L211.6 1507.1 L212.7 1507.0 L213.7 1507.0 L214.8 1506.9 L215.9 1506.9 L217.0 1506.8 L218.1 1506.7 L219.2 1506.6 L220.2 1506.5 L221.3 1506.5 L222.4 1506.4 L223.5 1506.3 L224.6 1506.1 L225.6 1506.0 L226.7 1505.9 L227.8 1505.8 L228.9 1505.6 L230.0 1505.5 L231.1 1505.3 L232.1 1505.2 L233.2 1505.0 L234.3 1504.8 L235.4 1504.6 L236.5 1504.4 L237.6 1504.2 L238.6 1503.9 L239.7 1503.7 L240.8 1503.4 L241.9 1503.1 L243.0 1502.8 L244.0 1502.4 L245.1 1502.1 L246.2 1501.7 L247.3 1501.3 L248.4 1500.9 L249.5 1500.4 L250.5 1499.9 L251.6 1499.4 L252.7 1498.8 L253.8 1498.2 L254.9 1497.5 L255.9 1496.8 L257.0 1496.0 L258.1 1495.2 L259.2 1494.3 L260.3 1493.3 L261.4 1492.2 L262.4 1491.1 L263.5 1489.8 L264.6 1488.5 L265.7 1487.0 L266.8 1485.4 L267.9 1483.6 L268.9 1481.7 L270.0 1479.6 L271.1 1477.3 L272.2 1474.8 L273.3 1472.1 L274.3 1469.1 L275.4 1465.9 L276.5 1462.4 L277.6 1458.5 L278.7 1454.4 L279.8 1449.8 L280.8 1444.9 L281.9 1439.6 L283.0 1433.9 L284.1 1427.7 L285.2 1421.0 L286.2 1413.8 L287.3 1406.0 L288.4 1397.7 L289.5 1388.8 L290.6 1379.3 L291.7 1369.2 L292.7 1358.5 L293.8 1347.1 L294.9 1335.1 L296.0 1322.4 L297.1 1309.1 L298.2 1295.2 L299.2 1280.6 L300.3 1265.4 L301.4 1249.7 L302.5 1233.4 L303.6 1216.6 L304.6 1199.4 L305.7 1181.8 L306.8 1163.9 L307.9 1145.7 L309.0 1127.4 L310.1 1109.0 L311.1 1090.7 L312.2 1072.6 L313.3 1054.8 L314.4 1037.4 L315.5 1020.6 L316.5 1004.6 L317.6 989.4 L318.7 975.2 L319.8 962.2 L320.9 950.6 L322.0 940.4 L323.0 931.8 L324.1 924.8 L325.2 919.7 L326.3 916.4 L327.4 915.0 L328.5 915.4 L329.5 917.4 L330.6 920.9 L331.7 925.9 L332.8 932.4 L333.9 940.2 L334.9 949.4 L336.0 959.7 L337.1 971.1 L338.2 983.4 L339.3 996.6 L340.4 1010.5 L341.4 1025.0 L342.5 1040.1 L343.6 1055.5 L344.7 1071.2 L345.8 1087.1 L346.8 1103.0 L347.9 1119.0 L349.0 1135.0 L350.1 1150.8 L351.2 1166.4 L352.3 1181.7 L353.3 1196.8 L354.4 1211.5 L355.5 1225.8 L356.6 1239.8 L357.7 1253.3 L358.8 1266.4 L359.8 1279.0 L360.9 1291.2 L362.0 1302.9 L363.1 1314.1 L364.2 1324.8 L365.2 1335.0 L366.3 1344.8 L367.4 1354.2 L368.5 1363.0 L369.6 1371.4 L370.7 1379.4 L371.7 1387.0 L372.8 1394.2 L373.9 1400.9 L375.0 1407.3 L376.1 1413.3 L377.2 1419.0 L378.2 1424.4 L379.3 1429.4 L380.4 1434.1 L381.5 1438.6 L382.6 1442.7 L383.6 1446.6 L384.7 1450.3 L385.8 1453.8 L386.9 1457.0 L388.0 1460.0 L389.1 1462.8 L390.1 1465.5 L391.2 1468.0 L392.3 1470.3 L393.4 1472.5 L394.5 1474.5 L395.5 1476.5 L396.6 1478.3 L397.7 1479.9 L398.8 1481.5 L399.9 1483.0 L401.0 1484.4 L402.0 1485.7 L403.1 1487.0 L404.2 1488.1 L405.3 1489.2 L406.4 1490.2 L407.5 1491.2 L408.5 1492.1 L409.6 1493.0 L410.7 1493.8 L411.8 1494.5 L412.9 1495.2 L413.9 1495.9 L415.0 1496.6 L416.1 1497.2 L417.2 1497.7 L418.3 1498.3 L419.4 1498.8 L420.4 1499.3 L421.5 1499.7 L422.6 1500.2 L423.7 1500.6 L424.8 1501.0 L425.8 1501.3 L426.9 1501.7 L428.0 1502.0 L429.1 1502.3 L430.2 1502.6 L431.3 1502.9 L432.3 1503.2 L433.4 1503.4 L434.5 1503.7 L435.6 1503.9 L436.7 1504.1 L437.8 1504.3 L438.8 1504.5 L439.9 1504.7 L441.0 1504.8 L442.1 1505.0 L443.2 1505.2 L444.2 1505.3 L445.3 1505.5 L446.4 1505.6 L447.5 1505.7 L448.6 1505.8 L449.7 1505.9 L450.7 1506.1 L451.8 1506.2 L452.9 1506.3 L454.0 1506.3 L455.1 1506.4 L456.1 1506.5 L457.2 1506.6 L458.3 1506.7 L459.4 1506.7 L460.5 1506.8 L461.6 1506.9 L462.6 1506.9 L463.7 1507.0 L464.8 1507.0 L465.9 1507.1 L467.0 1507.1 L468.1 1507.2 L469.1 1507.2 L470.2 1507.3 L471.3 1507.3 L472.4 1507.3 L473.5 1507.4 L474.5 1507.4 L475.6 1507.4 L476.7 1507.5 L477.8 1507.5 L478.9 1507.5 L480.0 1507.5 L481.0 1507.6 L482.1 1507.6 L483.2 1507.6 L484.3 1507.6 L485.4 1507.7 L486.4 1507.7 L487.5 1507.7 L488.6 1507.7 L489.7 1507.7 L490.8 1507.7 L491.9 1507.8 L492.9 1507.8 L494.0 1507.8 L495.1 1507.8 L496.2 1507.8 L497.3 1507.8 L498.4 1507.8 L499.4 1507.8 L500.5 1507.8 L501.6 1507.9 L502.7 1507.9 L503.8 1507.9 L504.8 1507.9 L505.9 1507.9 L507.0 1507.9 L508.1 1507.9 L509.2 1507.9 L510.3 1507.9 L511.3 1507.9 L512.4 1507.9 L513.5 1507.9 L514.6 1507.9 L515.7 1507.9 L516.7 1507.9 L517.8 1507.9 L518.9 1507.9 L520.0 1507.9 L521.1 1508.0 L522.2 1508.0 L523.2 1508.0 L524.3 1508.0 L525.4 1508.0 L526.5 1508.0 L527.6 1508.0 L528.7 1508.0 L529.7 1508.0 L530.8 1508.0 L531.9 1508.0 L533.0 1508.0 L534.1 1508.0 L535.1 1508.0 L536.2 1508.0 L537.3 1508.0 L538.4 1508.0 L539.5 1508.0 L540.6 1508.0 L541.6 1508.0 M627.4 1507.9 L628.5 1507.9 L629.6 1507.8 L630.6 1507.8 L631.7 1507.8 L632.8 1507.8 L633.9 1507.8 L635.0 1507.8 L636.1 1507.8 L637.1 1507.8 L638.2 1507.8 L639.3 1507.8 L640.4 1507.7 L641.5 1507.7 L642.5 1507.7 L643.6 1507.7 L644.7 1507.7 L645.8 1507.7 L646.9 1507.6 L648.0 1507.6 L649.0 1507.6 L650.1 1507.6 L651.2 1507.5 L652.3 1507.5 L653.4 1507.5 L654.4 1507.5 L655.5 1507.4 L656.6 1507.4 L657.7 1507.4 L658.8 1507.3 L659.9 1507.3 L660.9 1507.3 L662.0 1507.2 L663.1 1507.2 L664.2 1507.1 L665.3 1507.1 L666.3 1507.0 L667.4 1507.0 L668.5 1506.9 L669.6 1506.9 L670.7 1506.8 L671.8 1506.7 L672.8 1506.7 L673.9 1506.6 L675.0 1506.5 L676.1 1506.4 L677.2 1506.4 L678.2 1506.3 L679.3 1506.2 L680.4 1506.1 L681.5 1506.0 L682.6 1505.9 L683.6 1505.7 L684.7 1505.6 L685.8 1505.5 L686.9 1505.4 L688.0 1505.2 L689.1 1505.1 L690.1 1504.9 L691.2 1504.7 L692.3 1504.6 L693.4 1504.4 L694.5 1504.2 L695.5 1504.0 L696.6 1503.7 L697.7 1503.5 L698.8 1503.3 L699.9 1503.0 L701.0 1502.7 L702.0 1502.5 L703.1 1502.2 L704.2 1501.8 L705.3 1501.5 L706.4 1501.2 L707.4 1500.8 L708.5 1500.4 L709.6 1500.0 L710.7 1499.6 L711.8 1499.1 L712.9 1498.6 L713.9 1498.1 L715.0 1497.6 L716.1 1497.0 L717.2 1496.4 L718.3 1495.8 L719.3 1495.1 L720.4 1494.4 L721.5 1493.7 L722.6 1492.9 L723.7 1492.1 L724.8 1491.3 L725.8 1490.4 L726.9 1489.4 L728.0 1488.4 L729.1 1487.3 L730.2 1486.2 L731.2 1485.0 L732.3 1483.8 L733.4 1482.5 L734.5 1481.1 L735.6 1479.7 L736.6 1478.2 L737.7 1476.6 L738.8 1474.9 L739.9 1473.1 L741.0 1471.2 L742.1 1469.2 L743.1 1467.1 L744.2 1465.0 L745.3 1462.6 L746.4 1460.2 L747.5 1457.7 L748.5 1455.0 L749.6 1452.2 L750.7 1449.2 L751.8 1446.1 L752.9 1442.8 L754.0 1439.3 L755.0 1435.7 L756.1 1431.9 L757.2 1428.0 L758.3 1423.8 L759.4 1419.4 L760.4 1414.8 L761.5 1410.0 L762.6 1405.0 L763.7 1399.8 L764.8 1394.3 L765.9 1388.6 L766.9 1382.7 L768.0 1376.5 L769.1 1370.1 L770.2 1363.5 L771.3 1356.6 L772.3 1349.5 L773.4 1342.2 L774.5 1334.7 L775.6 1327.0 L776.7 1319.1 L777.8 1311.1 L778.8 1303.0 L779.9 1294.8 L781.0 1286.6 L782.1 1278.3 L783.2 1270.1 L784.2 1262.0 L785.3 1254.1 L786.4 1246.3 L787.5 1238.9 L788.6 1231.8 L789.6 1225.2 L790.7 1219.0 L791.8 1213.4 L792.9 1208.4 L794.0 1204.1 L795.1 1200.5 L796.1 1197.8 L797.2 1195.8 L798.3 1194.7 L799.4 1194.5 L800.5 1195.4 L801.5 1197.4 L802.6 1200.7 L803.7 1205.1 L804.8 1210.6 L805.9 1217.0 L807.0 1224.4 L808.0 1232.6 L809.1 1241.4 L810.2 1250.9 L811.3 1260.9 L812.4 1271.3 L813.4 1282.0 L814.5 1292.8 L815.6 1303.8 L816.7 1314.8 L817.8 1325.8 L818.9 1336.6 L819.9 1347.3 L821.0 1357.7 L822.1 1367.8 L823.2 1377.6 L824.3 1387.0 L825.3 1396.0 L826.4 1404.6 L827.5 1412.8 L828.6 1420.5 L829.7 1427.7 L830.8 1434.5 L831.8 1440.9 L832.9 1446.8 L834.0 1452.3 L835.1 1457.4 L836.2 1462.1 L837.2 1466.4 L838.3 1470.3 L839.4 1473.9 L840.5 1477.2 L841.6 1480.2 L842.6 1482.9 L843.7 1485.3 L844.8 1487.5 L845.9 1489.5 L847.0 1491.3 L848.1 1492.9 L849.1 1494.3 L850.2 1495.6 L851.3 1496.8 L852.4 1497.8 L853.5 1498.7 L854.5 1499.6 L855.6 1500.3 L856.7 1501.0 L857.8 1501.6 L858.9 1502.1 L860.0 1502.6 L861.0 1503.0 L862.1 1503.4 L863.2 1503.8 L864.3 1504.1 L865.4 1504.4 L866.4 1504.7 L867.5 1504.9 L868.6 1505.1 L869.7 1505.3 L870.8 1505.5 L871.9 1505.7 L872.9 1505.9 L874.0 1506.0 L875.1 1506.1 L876.2 1506.3 L877.3 1506.4 L878.3 1506.5 L879.4 1506.6 L880.5 1506.7 L881.6 1506.8 L882.7 1506.9 L883.8 1506.9 L884.8 1507.0 L885.9 1507.1 L887.0 1507.1 L888.1 1507.2 L889.2 1507.2 L890.2 1507.3 L891.3 1507.3 L892.4 1507.4 L893.5 1507.4 L894.6 1507.5 L895.6 1507.5 L896.7 1507.5 L897.8 1507.6 L898.9 1507.6 L900.0 1507.6 L901.1 1507.6 L902.1 1507.7 L903.2 1507.7 L904.3 1507.7 L905.4 1507.7 L906.5 1507.8 L907.5 1507.8 L908.6 1507.8 L909.7 1507.8 L910.8 1507.8 L911.9 1507.8 L913.0 1507.8 L914.0 1507.8 L915.1 1507.9 L916.2 1507.9 L917.3 1507.9 L918.4 1507.9 L919.4 1507.9" fill="none" stroke="#0616ac" stroke-width="5.5" stroke-linejoin="miter" stroke-linecap="butt"/>
<rect x="184.0" y="862.5" width="799.0" height="650.5" fill="none" stroke="#000" stroke-width="6.5"/>
<line x1="172.8" y1="1513.0" x2="181.2" y2="1513.0" stroke="#000" stroke-width="6.0"/>
<text transform="scale(0.94 1)" x="119.63 142.18 155.16" y="1522.0" font-family="'Liberation Sans', Arial, sans-serif" font-size="37" font-weight="bold" >0.0</text>
<line x1="172.8" y1="1426.3" x2="181.2" y2="1426.3" stroke="#000" stroke-width="6.0"/>
<text transform="scale(0.94 1)" x="119.63 142.18 155.16" y="1435.3" font-family="'Liberation Sans', Arial, sans-serif" font-size="37" font-weight="bold" >0.2</text>
<line x1="172.8" y1="1339.5" x2="181.2" y2="1339.5" stroke="#000" stroke-width="6.0"/>
<text transform="scale(0.94 1)" x="119.63 142.18 155.16" y="1348.5" font-family="'Liberation Sans', Arial, sans-serif" font-size="37" font-weight="bold" >0.4</text>
<line x1="172.8" y1="1252.8" x2="181.2" y2="1252.8" stroke="#000" stroke-width="6.0"/>
<text transform="scale(0.94 1)" x="119.63 142.18 155.16" y="1261.8" font-family="'Liberation Sans', Arial, sans-serif" font-size="37" font-weight="bold" >0.6</text>
<line x1="172.8" y1="1166.1" x2="181.2" y2="1166.1" stroke="#000" stroke-width="6.0"/>
<text transform="scale(0.94 1)" x="119.63 142.18 154.66" y="1175.1" font-family="'Liberation Sans', Arial, sans-serif" font-size="37" font-weight="bold" >0.8</text>
<line x1="172.8" y1="1079.3" x2="181.2" y2="1079.3" stroke="#000" stroke-width="6.0"/>
<text transform="scale(0.94 1)" x="118.63 142.18 155.16" y="1088.3" font-family="'Liberation Sans', Arial, sans-serif" font-size="37" font-weight="bold" >1.0</text>
<line x1="172.8" y1="992.6" x2="181.2" y2="992.6" stroke="#000" stroke-width="6.0"/>
<text transform="scale(0.94 1)" x="118.63 142.18 155.16" y="1001.6" font-family="'Liberation Sans', Arial, sans-serif" font-size="37" font-weight="bold" >1.2</text>
<line x1="172.8" y1="905.9" x2="181.2" y2="905.9" stroke="#000" stroke-width="6.0"/>
<text transform="scale(0.94 1)" x="118.63 142.18 155.16" y="914.9" font-family="'Liberation Sans', Arial, sans-serif" font-size="37" font-weight="bold" >1.4</text>
<line x1="226.8" y1="1515.8" x2="226.8" y2="1524.2" stroke="#000" stroke-width="6.0"/>
<text transform="scale(0.83 1)" x="226.04 260.25 294.47" y="1567.8" font-family="'Liberation Sans', Arial, sans-serif" font-size="47" font-weight="normal" stroke="#000" stroke-width="0.9">400</text>
<line x1="443.9" y1="1515.8" x2="443.9" y2="1524.2" stroke="#000" stroke-width="6.0"/>
<text transform="scale(0.83 1)" x="487.64 521.86 556.07" y="1567.8" font-family="'Liberation Sans', Arial, sans-serif" font-size="47" font-weight="normal" stroke="#000" stroke-width="0.9">500</text>
<line x1="661.1" y1="1515.8" x2="661.1" y2="1524.2" stroke="#000" stroke-width="6.0"/>
<text transform="scale(0.83 1)" x="744.66 778.88 813.10" y="1567.8" font-family="'Liberation Sans', Arial, sans-serif" font-size="47" font-weight="normal" stroke="#000" stroke-width="0.9">600</text>
<line x1="878.2" y1="1515.8" x2="878.2" y2="1524.2" stroke="#000" stroke-width="6.0"/>
<text transform="scale(0.83 1)" x="1006.27 1040.48 1074.70" y="1567.8" font-family="'Liberation Sans', Arial, sans-serif" font-size="47" font-weight="normal" stroke="#000" stroke-width="0.9">700</text>
<text transform="scale(0.89 1)" x="435.11 502.42 539.33 579.14 604.81 628.58 653.56 694.72 726.40 749.79 792.02 811.53 851.74 908.31" y="1614.3" font-family="'Liberation Serif', 'Times New Roman', serif" font-size="59" font-weight="bold">Wavelength(nm)</text>
<text x="202.0" y="924.4" font-family="'Liberation Sans', Arial, sans-serif" font-size="61" font-weight="normal" text-anchor="start" >C</text>
<text x="500.4" y="935.4" font-family="'Liberation Serif', 'Times New Roman', serif" font-size="67" font-weight="bold" text-anchor="start" >1R2B</text>
<g transform="translate(93.4,1530.0) rotate(-90) scale(1.006 1.1)">
<text transform="scale(0.89 1)" y="0" font-family="'Liberation Serif', 'Times New Roman', serif" font-size="62" font-weight="bold"><tspan x="0.83 41.49 82.53 117.76 139.28 175.88 180.88 233.12 277.23 296.54 332.03 337.03 391.53 413.46 456.65 516.13 550.04 555.04 586.98">Photon Flux (μmol m</tspan><tspan x="642.85 662.39" y="-14.8" font-size="50">-2</tspan><tspan x="690.93" y="0">s</tspan><tspan x="718.07 733.24" y="-14.8" font-size="50">-1</tspan><tspan x="763.31" y="0">)</tspan></text>
</g>
<path d="M1189.3 1509.7 L1190.4 1509.6 L1191.5 1509.6 L1192.6 1509.6 L1193.6 1509.6 L1194.7 1509.5 L1195.8 1509.5 L1196.9 1509.5 L1197.9 1509.4 L1199.0 1509.4 L1200.1 1509.4 L1201.2 1509.3 L1202.2 1509.3 L1203.3 1509.2 L1204.4 1509.2 L1205.5 1509.2 L1206.6 1509.1 L1207.6 1509.0 L1208.7 1509.0 L1209.8 1508.9 L1210.9 1508.9 L1211.9 1508.8 L1213.0 1508.7 L1214.1 1508.6 L1215.2 1508.5 L1216.2 1508.4 L1217.3 1508.4 L1218.4 1508.2 L1219.5 1508.1 L1220.6 1508.0 L1221.6 1507.9 L1222.7 1507.8 L1223.8 1507.6 L1224.9 1507.5 L1225.9 1507.3 L1227.0 1507.1 L1228.1 1507.0 L1229.2 1506.8 L1230.3 1506.5 L1231.3 1506.3 L1232.4 1506.1 L1233.5 1505.8 L1234.6 1505.5 L1235.6 1505.2 L1236.7 1504.9 L1237.8 1504.6 L1238.9 1504.2 L1239.9 1503.8 L1241.0 1503.3 L1242.1 1502.9 L1243.2 1502.3 L1244.3 1501.8 L1245.3 1501.1 L1246.4 1500.5 L1247.5 1499.7 L1248.6 1499.0 L1249.6 1498.1 L1250.7 1497.1 L1251.8 1496.1 L1252.9 1495.0 L1253.9 1493.8 L1255.0 1492.4 L1256.1 1491.0 L1257.2 1489.4 L1258.3 1487.6 L1259.3 1485.8 L1260.4 1483.7 L1261.5 1481.5 L1262.6 1479.1 L1263.6 1476.5 L1264.7 1473.7 L1265.8 1470.6 L1266.9 1467.3 L1267.9 1463.8 L1269.0 1460.0 L1270.1 1456.0 L1271.2 1451.7 L1272.3 1447.1 L1273.3 1442.2 L1274.4 1437.0 L1275.5 1431.5 L1276.6 1425.7 L1277.6 1419.6 L1278.7 1413.2 L1279.8 1406.5 L1280.9 1399.5 L1281.9 1392.2 L1283.0 1384.7 L1284.1 1377.0 L1285.2 1369.0 L1286.3 1360.9 L1287.3 1352.6 L1288.4 1344.1 L1289.5 1335.6 L1290.6 1327.1 L1291.6 1318.5 L1292.7 1310.1 L1293.8 1301.7 L1294.9 1293.6 L1296.0 1285.6 L1297.0 1278.1 L1298.1 1270.9 L1299.2 1264.1 L1300.3 1257.9 L1301.3 1252.3 L1302.4 1247.3 L1303.5 1243.1 L1304.6 1239.6 L1305.6 1237.0 L1306.7 1235.2 L1307.8 1234.3 L1308.9 1234.2 L1310.0 1235.0 L1311.0 1236.4 L1312.1 1238.6 L1313.2 1241.4 L1314.3 1244.9 L1315.3 1249.0 L1316.4 1253.6 L1317.5 1258.8 L1318.6 1264.4 L1319.6 1270.5 L1320.7 1276.9 L1321.8 1283.6 L1322.9 1290.5 L1324.0 1297.6 L1325.0 1304.9 L1326.1 1312.3 L1327.2 1319.7 L1328.3 1327.2 L1329.3 1334.6 L1330.4 1342.0 L1331.5 1349.3 L1332.6 1356.5 L1333.6 1363.5 L1334.7 1370.4 L1335.8 1377.1 L1336.9 1383.7 L1338.0 1390.0 L1339.0 1396.2 L1340.1 1402.1 L1341.2 1407.8 L1342.3 1413.3 L1343.3 1418.6 L1344.4 1423.6 L1345.5 1428.5 L1346.6 1433.1 L1347.6 1437.5 L1348.7 1441.7 L1349.8 1445.6 L1350.9 1449.4 L1352.0 1453.0 L1353.0 1456.3 L1354.1 1459.5 L1355.2 1462.5 L1356.3 1465.4 L1357.3 1468.1 L1358.4 1470.6 L1359.5 1473.0 L1360.6 1475.2 L1361.7 1477.3 L1362.7 1479.3 L1363.8 1481.1 L1364.9 1482.8 L1366.0 1484.5 L1367.0 1486.0 L1368.1 1487.4 L1369.2 1488.7 L1370.3 1490.0 L1371.3 1491.2 L1372.4 1492.3 L1373.5 1493.3 L1374.6 1494.3 L1375.7 1495.2 L1376.7 1496.0 L1377.8 1496.8 L1378.9 1497.5 L1380.0 1498.2 L1381.0 1498.9 L1382.1 1499.5 L1383.2 1500.1 L1384.3 1500.6 L1385.3 1501.2 L1386.4 1501.6 L1387.5 1502.1 L1388.6 1502.5 L1389.7 1502.9 L1390.7 1503.3 L1391.8 1503.7 L1392.9 1504.0 L1394.0 1504.3 L1395.0 1504.6 L1396.1 1504.9 L1397.2 1505.2 L1398.3 1505.4 L1399.3 1505.7 L1400.4 1505.9 L1401.5 1506.1 L1402.6 1506.3 L1403.7 1506.5 L1404.7 1506.7 L1405.8 1506.9 L1406.9 1507.0 L1408.0 1507.2 L1409.0 1507.3 L1410.1 1507.5 L1411.2 1507.6 L1412.3 1507.7 L1413.3 1507.8 L1414.4 1508.0 L1415.5 1508.1 L1416.6 1508.2 L1417.7 1508.3 L1418.7 1508.4 L1419.8 1508.4 L1420.9 1508.5 L1422.0 1508.6 L1423.0 1508.7 L1424.1 1508.7 L1425.2 1508.8 L1426.3 1508.9 L1427.4 1508.9 L1428.4 1509.0 L1429.5 1509.0 L1430.6 1509.1 L1431.7 1509.1 L1432.7 1509.2 L1433.8 1509.2 L1434.9 1509.3 L1436.0 1509.3 L1437.0 1509.3 L1438.1 1509.4 L1439.2 1509.4 L1440.3 1509.4 L1441.4 1509.5 L1442.4 1509.5 L1443.5 1509.5 L1444.6 1509.5 L1445.7 1509.6 L1446.7 1509.6 L1447.8 1509.6 L1448.9 1509.6 L1450.0 1509.6 L1451.0 1509.7 L1452.1 1509.7 L1453.2 1509.7 L1454.3 1509.7 L1455.4 1509.7 L1456.4 1509.7 L1457.5 1509.8 L1458.6 1509.8 L1459.7 1509.8 L1460.7 1509.8 L1461.8 1509.8 L1462.9 1509.8 L1464.0 1509.8 L1465.0 1509.8 L1466.1 1509.8 L1467.2 1509.8 L1468.3 1509.9 L1469.4 1509.9 L1470.4 1509.9 L1471.5 1509.9 L1472.6 1509.9 L1473.7 1509.9 L1474.7 1509.9 L1475.8 1509.9 L1476.9 1509.9 L1478.0 1509.9 L1479.0 1509.9 L1480.1 1509.9 L1481.2 1509.9 L1482.3 1509.9 L1483.4 1509.9 L1484.4 1509.9 L1485.5 1509.9 L1486.6 1509.9 L1487.7 1509.9 L1488.7 1509.9 L1489.8 1509.9 L1490.9 1510.0 L1492.0 1510.0 L1493.1 1510.0 L1494.1 1510.0 L1495.2 1510.0 L1496.3 1510.0 L1497.4 1510.0 L1498.4 1510.0 L1499.5 1510.0 L1500.6 1510.0 L1501.7 1510.0 L1502.7 1510.0 L1503.8 1510.0 L1504.9 1510.0 L1506.0 1510.0 L1507.1 1510.0 L1508.1 1510.0 L1509.2 1510.0 L1510.3 1510.0 L1511.4 1510.0 L1512.4 1510.0 L1513.5 1510.0 L1514.6 1510.0 L1515.7 1510.0 L1516.7 1510.0 L1517.8 1510.0 L1518.9 1510.0 L1520.0 1510.0 L1521.1 1510.0 L1522.1 1510.0 L1523.2 1510.0 L1524.3 1510.0 L1525.4 1510.0 L1526.4 1510.0 L1527.5 1510.0 L1528.6 1510.0 L1529.7 1510.0 L1530.7 1510.0 L1531.8 1510.0 L1532.9 1510.0 L1534.0 1510.0 L1535.1 1510.0 L1536.1 1510.0 L1537.2 1510.0 L1538.3 1510.0 L1539.4 1510.0 L1540.4 1510.0 L1541.5 1510.0 L1542.6 1510.0 L1543.7 1510.0 L1544.7 1510.0 L1545.8 1510.0 L1546.9 1510.0 L1548.0 1510.0 L1549.1 1510.0 L1550.1 1510.0 L1551.2 1510.0 L1552.3 1510.0 L1553.4 1510.0 L1554.4 1510.0 L1555.5 1510.0 L1556.6 1510.0 L1557.7 1510.0 L1558.8 1510.0 L1559.8 1510.0 L1560.9 1510.0 L1562.0 1510.0 L1563.1 1510.0 L1564.1 1510.0 L1565.2 1510.0 L1566.3 1510.0 L1567.4 1510.0 L1568.4 1510.0 L1569.5 1510.0 L1570.6 1510.0 L1571.7 1510.0 L1572.8 1509.9 L1573.8 1509.9 L1574.9 1509.9 L1576.0 1509.9 M1604.7 1509.8 L1605.8 1509.8 L1606.8 1509.7 L1607.9 1509.7 L1609.0 1509.7 L1610.1 1509.7 L1611.1 1509.7 L1612.2 1509.7 L1613.3 1509.6 L1614.4 1509.6 L1615.4 1509.6 L1616.5 1509.6 L1617.6 1509.6 L1618.7 1509.5 L1619.7 1509.5 L1620.8 1509.5 L1621.9 1509.5 L1623.0 1509.4 L1624.0 1509.4 L1625.1 1509.4 L1626.2 1509.3 L1627.3 1509.3 L1628.3 1509.3 L1629.4 1509.2 L1630.5 1509.2 L1631.6 1509.1 L1632.6 1509.1 L1633.7 1509.1 L1634.8 1509.0 L1635.9 1508.9 L1636.9 1508.9 L1638.0 1508.8 L1639.1 1508.8 L1640.2 1508.7 L1641.2 1508.6 L1642.3 1508.6 L1643.4 1508.5 L1644.5 1508.4 L1645.5 1508.3 L1646.6 1508.2 L1647.7 1508.1 L1648.8 1508.0 L1649.9 1507.9 L1650.9 1507.8 L1652.0 1507.7 L1653.1 1507.6 L1654.2 1507.4 L1655.2 1507.3 L1656.3 1507.1 L1657.4 1507.0 L1658.5 1506.8 L1659.5 1506.6 L1660.6 1506.5 L1661.7 1506.3 L1662.8 1506.1 L1663.8 1505.9 L1664.9 1505.6 L1666.0 1505.4 L1667.1 1505.2 L1668.1 1504.9 L1669.2 1504.6 L1670.3 1504.3 L1671.4 1504.0 L1672.4 1503.7 L1673.5 1503.4 L1674.6 1503.0 L1675.7 1502.6 L1676.7 1502.2 L1677.8 1501.8 L1678.9 1501.4 L1680.0 1500.9 L1681.0 1500.4 L1682.1 1499.9 L1683.2 1499.3 L1684.3 1498.8 L1685.3 1498.1 L1686.4 1497.5 L1687.5 1496.8 L1688.6 1496.1 L1689.6 1495.4 L1690.7 1494.6 L1691.8 1493.7 L1692.9 1492.9 L1693.9 1491.9 L1695.0 1491.0 L1696.1 1489.9 L1697.2 1488.8 L1698.2 1487.7 L1699.3 1486.5 L1700.4 1485.2 L1701.5 1483.9 L1702.5 1482.5 L1703.6 1481.0 L1704.7 1479.4 L1705.8 1477.8 L1706.9 1476.0 L1707.9 1474.2 L1709.0 1472.3 L1710.1 1470.2 L1711.2 1468.1 L1712.2 1465.8 L1713.3 1463.4 L1714.4 1460.9 L1715.5 1458.3 L1716.5 1455.5 L1717.6 1452.5 L1718.7 1449.4 L1719.8 1446.2 L1720.8 1442.8 L1721.9 1439.1 L1723.0 1435.3 L1724.1 1431.3 L1725.1 1427.1 L1726.2 1422.7 L1727.3 1418.0 L1728.4 1413.1 L1729.4 1407.9 L1730.5 1402.5 L1731.6 1396.8 L1732.7 1390.8 L1733.7 1384.5 L1734.8 1377.8 L1735.9 1370.9 L1737.0 1363.6 L1738.0 1355.9 L1739.1 1347.9 L1740.2 1339.5 L1741.3 1330.7 L1742.3 1321.5 L1743.4 1311.9 L1744.5 1301.8 L1745.6 1291.3 L1746.6 1280.4 L1747.7 1269.0 L1748.8 1257.2 L1749.9 1245.0 L1750.9 1232.3 L1752.0 1219.1 L1753.1 1205.6 L1754.2 1191.7 L1755.2 1177.4 L1756.3 1162.7 L1757.4 1147.8 L1758.5 1132.6 L1759.6 1117.2 L1760.6 1101.7 L1761.7 1086.2 L1762.8 1070.7 L1763.9 1055.3 L1764.9 1040.2 L1766.0 1025.4 L1767.1 1011.1 L1768.2 997.4 L1769.2 984.4 L1770.3 972.2 L1771.4 961.1 L1772.5 951.0 L1773.5 942.2 L1774.6 934.7 L1775.7 928.7 L1776.8 924.2 L1777.8 921.2 L1778.9 919.9 L1780.0 920.3 L1781.1 923.0 L1782.1 928.0 L1783.2 935.2 L1784.3 944.4 L1785.4 955.6 L1786.4 968.6 L1787.5 983.1 L1788.6 999.2 L1789.7 1016.4 L1790.7 1034.7 L1791.8 1053.9 L1792.9 1073.7 L1794.0 1094.0 L1795.0 1114.6 L1796.1 1135.4 L1797.2 1156.1 L1798.3 1176.6 L1799.3 1196.9 L1800.4 1216.7 L1801.5 1236.1 L1802.6 1254.9 L1803.6 1273.0 L1804.7 1290.3 L1805.8 1306.9 L1806.9 1322.7 L1807.9 1337.7 L1809.0 1351.8 L1810.1 1365.1 L1811.2 1377.5 L1812.2 1389.1 L1813.3 1399.9 L1814.4 1409.9 L1815.5 1419.1 L1816.6 1427.5 L1817.6 1435.3 L1818.7 1442.4 L1819.8 1448.9 L1820.9 1454.8 L1821.9 1460.1 L1823.0 1465.0 L1824.1 1469.4 L1825.2 1473.3 L1826.2 1476.8 L1827.3 1480.0 L1828.4 1482.9 L1829.5 1485.5 L1830.5 1487.8 L1831.6 1489.8 L1832.7 1491.7 L1833.8 1493.3 L1834.8 1494.8 L1835.9 1496.1 L1837.0 1497.3 L1838.1 1498.4 L1839.1 1499.3 L1840.2 1500.2 L1841.3 1501.0 L1842.4 1501.7 L1843.4 1502.3 L1844.5 1502.9 L1845.6 1503.4 L1846.7 1503.9 L1847.7 1504.4 L1848.8 1504.8 L1849.9 1505.1 L1851.0 1505.5 L1852.0 1505.8 L1853.1 1506.1 L1854.2 1506.3 L1855.3 1506.6 L1856.3 1506.8 L1857.4 1507.0 L1858.5 1507.2 L1859.6 1507.4 L1860.6 1507.6 L1861.7 1507.7 L1862.8 1507.9 L1863.9 1508.0 L1864.9 1508.2 L1866.0 1508.3 L1867.1 1508.4 L1868.2 1508.5 L1869.3 1508.6 L1870.3 1508.7 L1871.4 1508.8 L1872.5 1508.9 L1873.6 1508.9 L1874.6 1509.0 L1875.7 1509.1 L1876.8 1509.1 L1877.9 1509.2 L1878.9 1509.2 L1880.0 1509.3 L1881.1 1509.3 L1882.2 1509.4 L1883.2 1509.4 L1884.3 1509.5 L1885.4 1509.5 L1886.5 1509.5 L1887.5 1509.6 L1888.6 1509.6 L1889.7 1509.6 L1890.8 1509.6 L1891.8 1509.7 L1892.9 1509.7 L1894.0 1509.7 L1895.1 1509.7 L1896.1 1509.7 L1897.2 1509.8 L1898.3 1509.8 L1899.4 1509.8 L1900.4 1509.8 L1901.5 1509.8 L1902.6 1509.8 L1903.7 1509.8 L1904.7 1509.8 L1905.8 1509.9 L1906.9 1509.9 L1908.0 1509.9 L1909.0 1509.9 L1910.1 1509.9 L1911.2 1509.9 L1912.3 1509.9 L1913.3 1509.9 L1914.4 1509.9 L1915.5 1509.9 L1916.6 1509.9 L1917.6 1509.9 L1918.7 1509.9 L1919.8 1509.9 L1920.9 1509.9 L1921.9 1509.9 L1923.0 1509.9 L1924.1 1510.0 L1925.2 1510.0 L1926.3 1510.0 L1927.3 1510.0 L1928.4 1510.0 L1929.5 1510.0 L1930.6 1510.0 L1931.6 1510.0 L1932.7 1510.0 L1933.8 1510.0 L1934.9 1510.0 L1935.9 1510.0 L1937.0 1510.0 L1938.1 1510.0 L1939.2 1510.0 L1940.2 1510.0 L1941.3 1510.0 L1942.4 1510.0 L1943.5 1510.0 L1944.5 1510.0 L1945.6 1510.0 L1946.7 1510.0 L1947.8 1510.0 L1948.8 1510.0 L1949.9 1510.0" fill="none" stroke="#a00000" stroke-width="5.5" stroke-linejoin="miter" stroke-linecap="butt"/>
<rect x="1168.0" y="866.3" width="798.0" height="650.2" fill="none" stroke="#000" stroke-width="6.5"/>
<line x1="1156.8" y1="1516.5" x2="1165.2" y2="1516.5" stroke="#000" stroke-width="6.0"/>
<text transform="scale(0.94 1)" x="1162.18 1184.73 1197.71" y="1525.5" font-family="'Liberation Sans', Arial, sans-serif" font-size="37" font-weight="bold" >0.0</text>
<line x1="1156.8" y1="1435.2" x2="1165.2" y2="1435.2" stroke="#000" stroke-width="6.0"/>
<text transform="scale(0.94 1)" x="1162.18 1184.73 1197.71" y="1444.2" font-family="'Liberation Sans', Arial, sans-serif" font-size="37" font-weight="bold" >0.2</text>
<line x1="1156.8" y1="1354.0" x2="1165.2" y2="1354.0" stroke="#000" stroke-width="6.0"/>
<text transform="scale(0.94 1)" x="1162.18 1184.73 1197.71" y="1363.0" font-family="'Liberation Sans', Arial, sans-serif" font-size="37" font-weight="bold" >0.4</text>
<line x1="1156.8" y1="1272.7" x2="1165.2" y2="1272.7" stroke="#000" stroke-width="6.0"/>
<text transform="scale(0.94 1)" x="1162.18 1184.73 1197.71" y="1281.7" font-family="'Liberation Sans', Arial, sans-serif" font-size="37" font-weight="bold" >0.6</text>
<line x1="1156.8" y1="1191.4" x2="1165.2" y2="1191.4" stroke="#000" stroke-width="6.0"/>
<text transform="scale(0.94 1)" x="1162.18 1184.73 1197.21" y="1200.4" font-family="'Liberation Sans', Arial, sans-serif" font-size="37" font-weight="bold" >0.8</text>
<line x1="1156.8" y1="1110.1" x2="1165.2" y2="1110.1" stroke="#000" stroke-width="6.0"/>
<text transform="scale(0.94 1)" x="1161.18 1184.73 1197.71" y="1119.1" font-family="'Liberation Sans', Arial, sans-serif" font-size="37" font-weight="bold" >1.0</text>
<line x1="1156.8" y1="1028.8" x2="1165.2" y2="1028.8" stroke="#000" stroke-width="6.0"/>
<text transform="scale(0.94 1)" x="1161.18 1184.73 1197.71" y="1037.8" font-family="'Liberation Sans', Arial, sans-serif" font-size="37" font-weight="bold" >1.2</text>
<line x1="1156.8" y1="947.6" x2="1165.2" y2="947.6" stroke="#000" stroke-width="6.0"/>
<text transform="scale(0.94 1)" x="1161.18 1184.73 1197.71" y="956.6" font-family="'Liberation Sans', Arial, sans-serif" font-size="37" font-weight="bold" >1.4</text>
<line x1="1156.8" y1="866.3" x2="1165.2" y2="866.3" stroke="#000" stroke-width="6.0"/>
<text transform="scale(0.94 1)" x="1161.18 1184.73 1197.71" y="875.3" font-family="'Liberation Sans', Arial, sans-serif" font-size="37" font-weight="bold" >1.6</text>
<line x1="1210.9" y1="1519.2" x2="1210.9" y2="1527.8" stroke="#000" stroke-width="6.0"/>
<text transform="scale(0.83 1)" x="1411.70 1445.92 1480.13" y="1571.0" font-family="'Liberation Sans', Arial, sans-serif" font-size="47" font-weight="normal" stroke="#000" stroke-width="0.9">400</text>
<line x1="1426.7" y1="1519.2" x2="1426.7" y2="1527.8" stroke="#000" stroke-width="6.0"/>
<text transform="scale(0.83 1)" x="1671.66 1705.88 1740.10" y="1571.0" font-family="'Liberation Sans', Arial, sans-serif" font-size="47" font-weight="normal" stroke="#000" stroke-width="0.9">500</text>
<line x1="1642.4" y1="1519.2" x2="1642.4" y2="1527.8" stroke="#000" stroke-width="6.0"/>
<text transform="scale(0.83 1)" x="1927.05 1961.27 1995.48" y="1571.0" font-family="'Liberation Sans', Arial, sans-serif" font-size="47" font-weight="normal" stroke="#000" stroke-width="0.9">600</text>
<line x1="1858.2" y1="1519.2" x2="1858.2" y2="1527.8" stroke="#000" stroke-width="6.0"/>
<text transform="scale(0.83 1)" x="2187.01 2221.23 2255.45" y="1571.0" font-family="'Liberation Sans', Arial, sans-serif" font-size="47" font-weight="normal" stroke="#000" stroke-width="0.9">700</text>
<text transform="scale(0.89 1)" x="1581.29 1648.60 1685.51 1725.32 1750.99 1774.76 1799.74 1840.90 1872.58 1895.97 1938.20 1957.71 1997.92 2054.49" y="1620.5" font-family="'Liberation Serif', 'Times New Roman', serif" font-size="59" font-weight="bold">Wavelength(nm)</text>
<text x="1181.4" y="934.1" font-family="'Liberation Sans', Arial, sans-serif" font-size="61" font-weight="normal" text-anchor="start" >D</text>
<text x="1491.6" y="937.8" font-family="'Liberation Serif', 'Times New Roman', serif" font-size="67" font-weight="bold" text-anchor="start" >2R1B</text>
<g transform="translate(1070.3,1519.4) rotate(-90) scale(1.006 1.1)">
<text transform="scale(0.89 1)" y="0" font-family="'Liberation Serif', 'Times New Roman', serif" font-size="62" font-weight="bold"><tspan x="0.83 41.49 82.53 117.76 139.28 175.88 180.88 233.12 277.23 296.54 332.03 337.03 391.53 413.46 456.65 516.13 550.04 555.04 586.98">Photon Flux (μmol m</tspan><tspan x="642.85 662.39" y="-14.8" font-size="50">-2</tspan><tspan x="690.93" y="0">s</tspan><tspan x="718.07 733.24" y="-14.8" font-size="50">-1</tspan><tspan x="763.31" y="0">)</tspan></text>
</g>
</svg>
</body></html>
